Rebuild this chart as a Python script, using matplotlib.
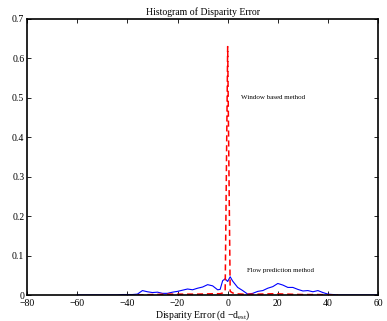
import numpy as np
import matplotlib
matplotlib.use('Agg')
import matplotlib.pyplot as plt

plt.rcParams['font.family'] = ['Liberation Serif', 'DejaVu Serif']
plt.rcParams['mathtext.fontset'] = 'custom'
plt.rcParams['mathtext.rm'] = 'Liberation Serif'
plt.rcParams['mathtext.it'] = 'Liberation Serif'

# flow prediction method (blue)
flow_x = [-60, -56, -52, -48, -44, -42, -40, -38, -36, -34, -32, -30, -28,
          -26, -24, -22, -20, -18, -16, -14, -12, -10, -8, -6, -4, -3, -2,
          -1, 0, 1, 2, 3, 4, 6, 8, 10, 12, 14, 16, 18, 20, 22, 24, 26, 28,
          30, 32, 34, 36, 38, 40, 42, 44, 48, 52, 56, 60]
flow_y = [0.001, 0.001, 0.001, 0.001, 0.001, 0.002, 0.002, 0.002, 0.003,
          0.012, 0.009, 0.007, 0.008, 0.005, 0.005, 0.008, 0.010, 0.013,
          0.016, 0.014, 0.018, 0.021, 0.027, 0.024, 0.014, 0.015, 0.037,
          0.042, 0.035, 0.047, 0.036, 0.028, 0.020, 0.012, 0.003, 0.005,
          0.010, 0.012, 0.018, 0.022, 0.030, 0.026, 0.020, 0.020, 0.015,
          0.011, 0.012, 0.009, 0.012, 0.007, 0.003, 0.002, 0.001, 0.001,
          0.001, 0.001, 0.001]

# window based method (red)
win_x = [-36, -30, -24, -18, -12, -6, -3, -2, -1, 0, 1, 2, 3, 6, 12, 18, 24,
         30, 36, 44]
win_y = [0.001, 0.002, 0.003, 0.003, 0.003, 0.004, 0.004, 0.006, 0.01, 0.63,
         0.01, 0.006, 0.004, 0.003, 0.003, 0.004, 0.003, 0.002, 0.002, 0.001]

fig = plt.figure(figsize=(3.87, 3.21), dpi=100)
ax = fig.add_axes([0.07, 0.08, 0.907, 0.861])

ax.plot(flow_x, flow_y, color='blue', lw=0.8)
ax.plot(win_x, win_y, color='red', lw=1.1, linestyle=(0, (4, 2.5)))

ax.set_xlim(-80, 60)
ax.set_ylim(0, 0.7)
ax.set_xticks(np.arange(-80, 61, 20))
ax.set_yticks(np.arange(0, 0.71, 0.1))
ax.set_xticklabels(['\u221280', '\u221260', '\u221240', '\u221220', '0', '20', '40', '60'])
ax.set_yticklabels(['0', '0.1', '0.2', '0.3', '0.4', '0.5', '0.6', '0.7'])
ax.tick_params(direction='in', top=True, right=True, labelsize=7, length=3,
               width=0.6)
ax.tick_params(axis='x', pad=3)
ax.tick_params(axis='y', pad=2)
for s in ax.spines.values():
    s.set_linewidth(1.2)

ax.set_title('Histogram of Disparity Error', fontsize=7, pad=3)
ax.set_xlabel('Disparity Error (d \u2212d$_{\\mathrm{est}}$)', fontsize=7, labelpad=0)

ax.text(5.2, 0.5, 'Window based method', fontsize=5, va='center')
ax.text(7.6, 0.063, 'Flow prediction method', fontsize=5, va='center')

fig.savefig('out.png', dpi=100)
